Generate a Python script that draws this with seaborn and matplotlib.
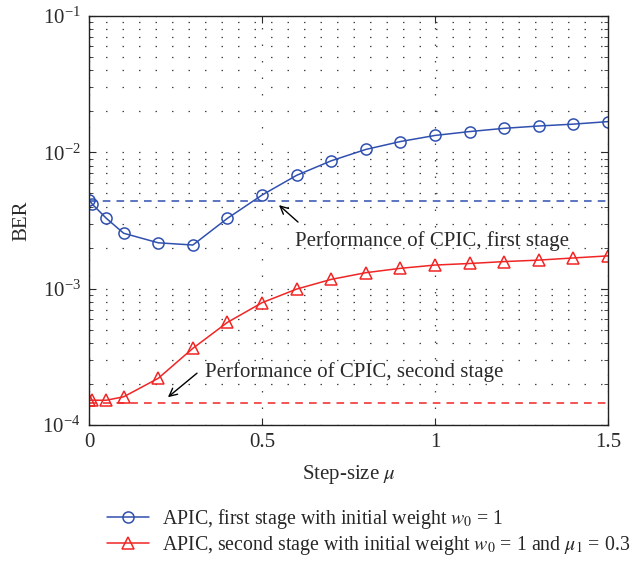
import numpy as np
import pandas as pd
import matplotlib
matplotlib.use("Agg")
import matplotlib.pyplot as plt
import seaborn as sns

# date
step_size = [0, 0.01, 0.05, 0.1, 0.2, 0.3, 0.4, 0.5, 0.6, 0.7,
             0.8, 0.9, 1.0, 1.1, 1.2, 1.3, 1.4, 1.5]
ber_first = [4.47e-3, 4.15e-3, 3.28e-3, 2.55e-3, 2.17e-3, 2.09e-3, 3.28e-3, 4.86e-3, 6.78e-3,
             8.67e-3, 1.05e-2, 1.20e-2, 1.33e-2, 1.42e-2, 1.50e-2, 1.56e-2, 1.61e-2, 1.68e-2]
ber_second = [1.52e-4, 1.52e-4, 1.52e-4, 1.61e-4, 2.20e-4, 3.65e-4, 5.66e-4, 7.89e-4, 9.93e-4,
              1.17e-3, 1.31e-3, 1.41e-3, 1.49e-3, 1.53e-3, 1.58e-3, 1.62e-3, 1.68e-3, 1.74e-3]
cpic_first = 4.37e-3
cpic_second = 1.44e-4

label_first = "APIC, first stage with initial weight $w_0$ = 1"
label_second = "APIC, second stage with initial weight $w_0$ = 1 and $\\mu_1$ = 0.3"

data = pd.DataFrame({"Step": step_size, "First": ber_first, "Second": ber_second})

sns.set_style("ticks")
plt.rcParams['font.family'] = ['Liberation Serif', 'DejaVu Serif']
plt.rcParams['mathtext.fontset'] = 'stix'
plt.rcParams['font.size'] = 15

blue = '#3050b0'
red = '#f02525'
txt = '#2a2a2a'

fig = plt.figure(figsize=(6.36, 5.61), dpi=100)
ax = fig.add_axes([0.14, 0.2424, 0.816, 0.7291])

sns.lineplot(x="Step", y="First", data=data, ax=ax, color=blue, marker="o",
             markerfacecolor="none", markeredgecolor=blue, markeredgewidth=1.1,
             markersize=8, linewidth=1.1, label=label_first)
sns.lineplot(x="Step", y="Second", data=data, ax=ax, color=red, marker="^",
             markerfacecolor="none", markeredgecolor=red, markeredgewidth=1.1,
             markersize=8.5, linewidth=1.1, label=label_second)

ax.axhline(cpic_first, color=blue, linestyle=(0, (5, 4)), linewidth=1.1)
ax.axhline(cpic_second, color=red, linestyle=(0, (5, 4)), linewidth=1.1)

ax.set_yscale("log")
ax.set_xlim(0, 1.5)
ax.set_ylim(1e-4, 1e-1)
ax.set_xticks([0, 0.5, 1, 1.5])
ax.set_xticklabels(["0", "0.5", "1", "1.5"])

ax.grid(True, which="both", linestyle=(0, (1.2, 12)), color="#444444", linewidth=0.9)
ax.tick_params(which="both", direction="in", top=True, right=True, labelsize=15, colors=txt)
ax.tick_params(which="major", length=5, pad=6)
ax.tick_params(which="minor", length=3)
for s in ax.spines.values():
    s.set_color("#222222")
    s.set_linewidth(1.0)

ax.set_xlabel("Step-size $\\mu$", fontsize=15, color=txt, labelpad=8)
ax.set_ylabel("BER", fontsize=15, color=txt, labelpad=8)

# săgeți și texte
ax.annotate("", xy=(0.549, 4.10e-3), xytext=(0.604, 3.08e-3),
            arrowprops=dict(arrowstyle="->", color="black", lw=1, shrinkA=0, shrinkB=0,
                            mutation_scale=14))
ax.text(0.595, 2.23e-3, "Performance of CPIC, first stage", fontsize=15, color=txt,
        ha="left", va="center")
ax.annotate("", xy=(0.228, 1.60e-4), xytext=(0.312, 2.40e-4),
            arrowprops=dict(arrowstyle="->", color="black", lw=1, shrinkA=0, shrinkB=0,
                            mutation_scale=14))
ax.text(0.335, 2.44e-4, "Performance of CPIC, second stage", fontsize=15, color=txt,
        ha="left", va="center")

ax.legend_.remove()
handles, labels = ax.get_legend_handles_labels()
fig.legend(handles, labels, loc="upper left", bbox_to_anchor=(0.168, 0.097),
           frameon=False, fontsize=14.3, handlelength=2.1, labelspacing=0.15,
           handletextpad=0.7, borderaxespad=0, borderpad=0)

fig.savefig("out.png", dpi=100)
